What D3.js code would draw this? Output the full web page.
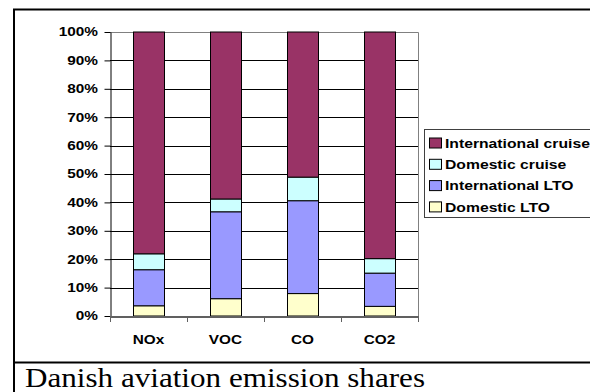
<!DOCTYPE html>
<html>
<head>
<meta charset="utf-8">
<script src="https://cdn.jsdelivr.net/npm/d3@7/dist/d3.min.js"></script>
<style>
  html, body { margin: 0; padding: 0; background: #fff; overflow: hidden; }
  svg { display: block; }
</style>
</head>
<body>
<svg id="chart" width="590" height="392"></svg>
<script>
// Emission shares (%) by pollutant, stacked from the ground up
const categories = ["NOx", "VOC", "CO", "CO2"];
const seriesNames = ["Domestic LTO", "International LTO", "Domestic cruise", "International cruise"];
const domesticLTO = [3.6, 6.1, 7.9, 3.4];
const internationalLTO = [12.7, 30.6, 32.7, 11.7];
const domesticCruise = [5.6, 4.5, 8.3, 5.1];
const internationalCruise = [78.1, 58.8, 51.1, 79.8];
const yTicks = [0, 10, 20, 30, 40, 50, 60, 70, 80, 90, 100];
const legendOrder = ["International cruise", "Domestic cruise", "International LTO", "Domestic LTO"];
const caption = "Danish aviation emission shares";

const colors = {
  "Domestic LTO": "#FFFFCC",
  "International LTO": "#9999FF",
  "Domestic cruise": "#CCFFFF",
  "International cruise": "#993366"
};

const rows = categories.map((c, i) => ({
  category: c,
  "Domestic LTO": domesticLTO[i],
  "International LTO": internationalLTO[i],
  "Domestic cruise": domesticCruise[i],
  "International cruise": internationalCruise[i]
}));

const svg = d3.select("#chart");
const font = "'Liberation Sans', Arial, sans-serif";
const stretch = 1.28; // wide rendering of the sans labels

const plot = { left: 110, right: 418, top: 32, bottom: 316 };

const x = d3.scaleBand()
  .domain(categories)
  .range([plot.left, plot.right])
  .paddingInner(0.6)
  .paddingOuter(0.3);

const y = d3.scaleLinear().domain([0, 100]).range([plot.bottom, plot.top]);

// horizontally widened label helper
function wideText(g, tx, ty, str, anchor, size, sx) {
  const grp = g.append("g").attr("transform", `translate(${tx},${ty}) scale(${sx},1)`);
  grp.append("text")
    .attr("x", 0).attr("y", 0)
    .attr("text-anchor", anchor)
    .attr("font-family", font)
    .attr("font-weight", "bold")
    .attr("font-size", size)
    .attr("fill", "#000")
    .text(str);
  return grp;
}

// outer frame and caption divider
svg.append("rect").attr("x", 0).attr("y", 0).attr("width", 590).attr("height", 392).attr("fill", "#fff");
svg.append("path")
  .attr("d", "M14,392 V9.5 H592")
  .attr("fill", "none").attr("stroke", "#000").attr("stroke-width", 2);
svg.append("line")
  .attr("x1", 13).attr("x2", 592).attr("y1", 362.5).attr("y2", 362.5)
  .attr("stroke", "#000").attr("stroke-width", 2);

// gridlines
svg.append("g").selectAll("line")
  .data(yTicks.filter(t => t > 0 && t < 100))
  .join("line")
  .attr("x1", plot.left).attr("x2", plot.right)
  .attr("y1", d => Math.round(y(d)) + 0.5).attr("y2", d => Math.round(y(d)) + 0.5)
  .attr("stroke", "#000").attr("stroke-width", 1);

// plot area border
svg.append("path")
  .attr("d", `M${plot.left},${plot.top + 0.5} H${plot.right + 0.5} V${plot.bottom}`)
  .attr("fill", "none").attr("stroke", "#808080").attr("stroke-width", 1);

// stacked bars
const stack = d3.stack().keys(seriesNames);
const layers = stack(rows);
svg.append("g").selectAll("g")
  .data(layers)
  .join("g")
  .attr("fill", d => colors[d.key])
  .selectAll("rect")
  .data(d => d)
  .join("rect")
  .attr("x", d => Math.round(x(d.data.category)) + 0.5)
  .attr("y", d => y(d[1]))
  .attr("width", Math.round(x.bandwidth()))
  .attr("height", d => y(d[0]) - y(d[1]))
  .attr("stroke", "#000")
  .attr("stroke-width", 1);

// y axis
const yAxis = svg.append("g")
  .attr("transform", `translate(${plot.left + 0.5},0)`)
  .call(d3.axisLeft(y).tickValues(yTicks).tickFormat(d => d + "%").tickSize(6).tickSizeOuter(0));
yAxis.select(".domain").attr("stroke", "#000");
yAxis.selectAll(".tick line").attr("stroke", "#000");
yAxis.selectAll(".tick text").remove();
yTicks.forEach(t => {
  wideText(svg, 98, y(t) + 4.3, t + "%", "end", 12, stretch);
});

// x axis
const xAxis = svg.append("g")
  .attr("transform", `translate(0,${plot.bottom + 0.5})`)
  .call(d3.axisBottom(x).tickSize(0).tickSizeOuter(0).tickFormat(""));
xAxis.select(".domain").attr("stroke", "#606060").attr("stroke-width", 2);
const step = x.step();
const boundaries = d3.range(categories.length + 1).map(i => plot.left + i * step);
svg.append("g").selectAll("line")
  .data(boundaries)
  .join("line")
  .attr("x1", d => Math.round(d) + 0.5).attr("x2", d => Math.round(d) + 0.5)
  .attr("y1", plot.bottom).attr("y2", plot.bottom + 6)
  .attr("stroke", "#606060").attr("stroke-width", 1);
categories.forEach(c => {
  wideText(svg, x(c) + x.bandwidth() / 2, 344, c, "middle", 12, stretch);
});

// legend
const legend = svg.append("g");
legend.append("rect")
  .attr("x", 424.5).attr("y", 129.5).attr("width", 200).attr("height", 88)
  .attr("fill", "#fff").attr("stroke", "#404040").attr("stroke-width", 1);
legendOrder.forEach((name, i) => {
  const cy = 143 + i * 21.3;
  legend.append("rect")
    .attr("x", 429.5).attr("y", cy - 5)
    .attr("width", 12).attr("height", 10)
    .attr("fill", colors[name]).attr("stroke", "#000").attr("stroke-width", 1);
  wideText(legend, 445, cy + 4.7, name, "start", 13, 1.21);
});

// caption
svg.append("text")
  .attr("x", 25).attr("y", 387)
  .attr("font-family", "'Liberation Serif', 'Times New Roman', serif")
  .attr("font-size", 26.5)
  .attr("textLength", 400)
  .attr("lengthAdjust", "spacingAndGlyphs")
  .attr("fill", "#000")
  .text(caption);
</script>
</body>
</html>
